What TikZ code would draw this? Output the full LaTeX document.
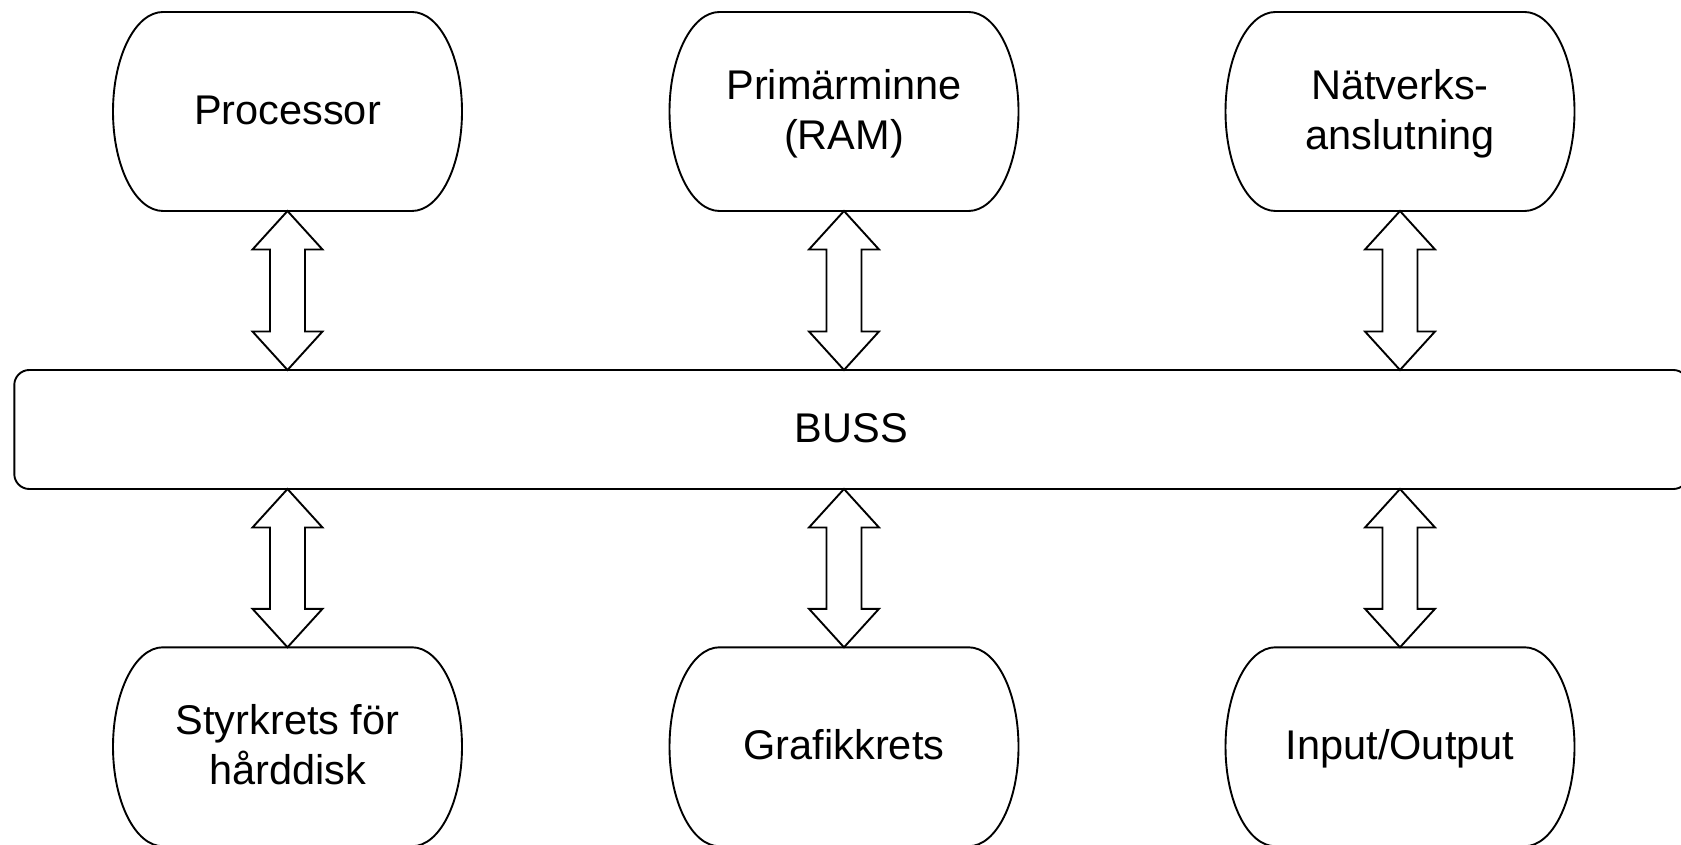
\documentclass[tikz,border=0pt]{standalone}
\usepackage{fontspec}
\setmainfont{Liberation Sans}
\usetikzlibrary{calc}

% invisible line strut: 38pt above the baseline, 12pt below
\newcommand\lstrut{\rule[-12pt]{0pt}{50pt}}

\tikzset{
  unit/.style={minimum width=349pt, minimum height=199pt, inner sep=0pt,
    outer sep=0pt, align=center, font=\fontsize{41.5}{50}\selectfont},
  outline/.style={draw=black, line width=1.9pt},
  bus/.style={draw=black, line width=1.9pt, rounded corners=15pt,
    minimum width=1674pt, minimum height=119pt, inner sep=0pt, outer sep=0pt,
    font=\fontsize{41.5}{50}\selectfont},
  arrowshape/.style={draw=black, fill=white, line width=1.9pt, line join=miter},
}

% capsule outline: flat top and bottom, half-elliptical sides
\newcommand\unitoutline[1]{%
  \draw[outline] ([xshift=50pt]#1.north west) -- ([xshift=-50pt]#1.north east)
    arc[start angle=90, end angle=-90, x radius=50pt, y radius=99.5pt]
    -- ([xshift=50pt]#1.south west)
    arc[start angle=270, end angle=90, x radius=50pt, y radius=99.5pt] -- cycle;}

% hollow double-headed arrow from an upper point #1 down to a lower point #2
\newcommand\busarrow[2]{%
  \draw[arrowshape] (#1) -- ++(35,-38.5) -- ++(-17.5,0)
    -- ($(#2)+(17.5,38.5)$) -- ++(17.5,0) -- (#2) -- ++(-35,38.5)
    -- ++(17.5,0) -- ($(#1)+(-17.5,-38.5)$) -- ++(-17.5,0) -- cycle;}

\begin{document}
\begin{tikzpicture}[x=1pt,y=1pt]
  \useasboundingbox (0,0) rectangle (1681,844);
  \clip (0,0) rectangle (1681,844);

  % upper row
  \node[unit] (cpu) at (287.5,732.5) {Processor\lstrut};
  \node[unit] (ram) at (844,732.5) {Primärminne\lstrut\\(RAM)\lstrut};
  \node[unit] (net) at (1400,732.5) {Nätverks-\lstrut\\anslutning\lstrut};

  % bus
  \node[bus] (bus) at (851.3,414.5) {BUSS\lstrut};

  % lower row
  \node[unit] (disk) at (287.5,97.2) {Styrkrets för\lstrut\\hårddisk\lstrut};
  \node[unit] (gfx) at (844,97.2) {Grafikkrets\lstrut};
  \node[unit] (io) at (1400,97.2) {Input/Output\lstrut};

  \foreach \n in {cpu,ram,net,disk,gfx,io} {\unitoutline{\n}}

  % connections to the bus
  \busarrow{cpu.south}{cpu.south |- bus.north}
  \busarrow{ram.south}{ram.south |- bus.north}
  \busarrow{net.south}{net.south |- bus.north}
  \busarrow{disk.north |- bus.south}{disk.north}
  \busarrow{gfx.north |- bus.south}{gfx.north}
  \busarrow{io.north |- bus.south}{io.north}
\end{tikzpicture}
\end{document}
